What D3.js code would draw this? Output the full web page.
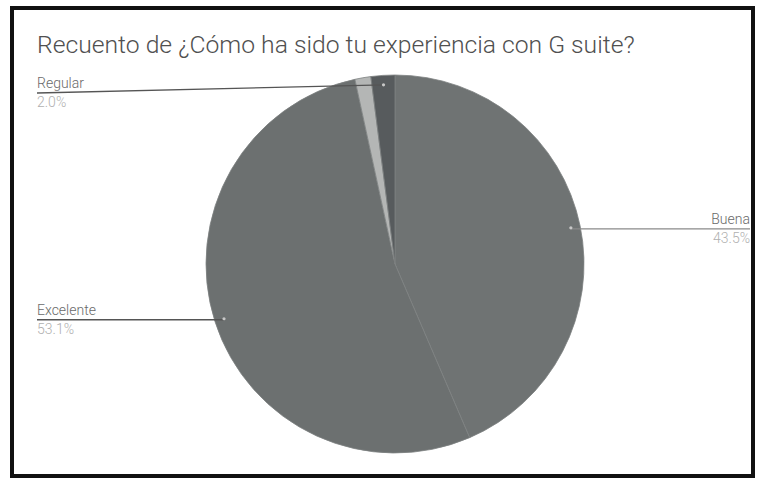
<!DOCTYPE html>
<html>
<head>
<meta charset="utf-8">
<script src="https://cdn.jsdelivr.net/npm/d3@7"></script>
<style>
  html, body { margin: 0; padding: 0; background: #fff; }
  svg { display: block; }
</style>
</head>
<body>
<div id="chart"></div>
<script>
// ---- data ----
const title = "Recuento de ¿Cómo ha sido tu experiencia con G suite?";
const categories = ["Buena", "Excelente", "Otra", "Regular"];
const counts = [64, 78, 2, 3];
const percentLabels = ["43.5%", "53.1%", "1.4%", "2.0%"];
const showLabel = [true, true, false, true];
const sliceColors = ["#6f7373", "#6c7070", "#b4b6b5", "#575b5d"];

// ---- layout ----
const W = 764, H = 478;
const cx = 395, cy = 264, R = 189;

const svg = d3.select("#chart").append("svg")
  .attr("width", W).attr("height", H);

svg.append("rect").attr("width", W).attr("height", H).attr("fill", "#fff");

// frame
svg.append("rect")
  .attr("x", 12).attr("y", 8).attr("width", 741).attr("height", 468)
  .attr("fill", "none").attr("stroke", "#111").attr("stroke-width", 4);

svg.append("text")
  .attr("x", 37).attr("y", 53)
  .attr("font-family", "Roboto, sans-serif")
  .attr("font-size", 24.7)
  .attr("font-weight", 300)
  .attr("fill", "#505050")
  .text(title);

const data = categories.map((c, i) => ({ name: c, value: counts[i], pct: percentLabels[i], show: showLabel[i], color: sliceColors[i] }));

const pie = d3.pie().sort(null).value(d => d.value);
const arcs = pie(data);
const arc = d3.arc().innerRadius(0).outerRadius(R);

const g = svg.append("g").attr("transform", `translate(${cx},${cy})`);
g.selectAll("path").data(arcs).join("path")
  .attr("d", arc)
  .attr("fill", d => d.data.color)
  .attr("stroke", "#7e8282")
  .attr("stroke-width", 0.8);

// labels
const anchorR = R * 0.95;
const topLimit = 93;
arcs.forEach(a => {
  if (!a.data.show) return;
  const mid = (a.startAngle + a.endAngle) / 2;
  const ax = cx + anchorR * Math.sin(mid);
  const ay = cy - anchorR * Math.cos(mid);
  const right = Math.sin(mid) > 0;
  const ly = Math.max(ay + 1, topLimit);
  const lx = right ? 750 : 37;

  svg.append("line")
    .attr("x1", ax).attr("y1", ly === topLimit ? ay : ly).attr("x2", lx).attr("y2", ly)
    .attr("stroke", right ? "#8a8a8a" : "#555").attr("stroke-width", 1.3);
  svg.append("circle").attr("cx", ax).attr("cy", ay).attr("r", 1.6).attr("fill", "#c8c8c8");

  svg.append("text")
    .attr("x", lx).attr("y", ly - 5)
    .attr("text-anchor", right ? "end" : "start")
    .attr("font-family", "Roboto, sans-serif")
    .attr("font-size", 14)
    .attr("font-weight", 300)
    .attr("fill", "#6a6a6a")
    .text(a.data.name);
  svg.append("text")
    .attr("x", lx).attr("y", ly + 14)
    .attr("text-anchor", right ? "end" : "start")
    .attr("font-family", "Roboto, sans-serif")
    .attr("font-size", 14)
    .attr("font-weight", 300)
    .attr("fill", "#b0b0b0")
    .text(a.data.pct);
});
</script>
</body>
</html>
